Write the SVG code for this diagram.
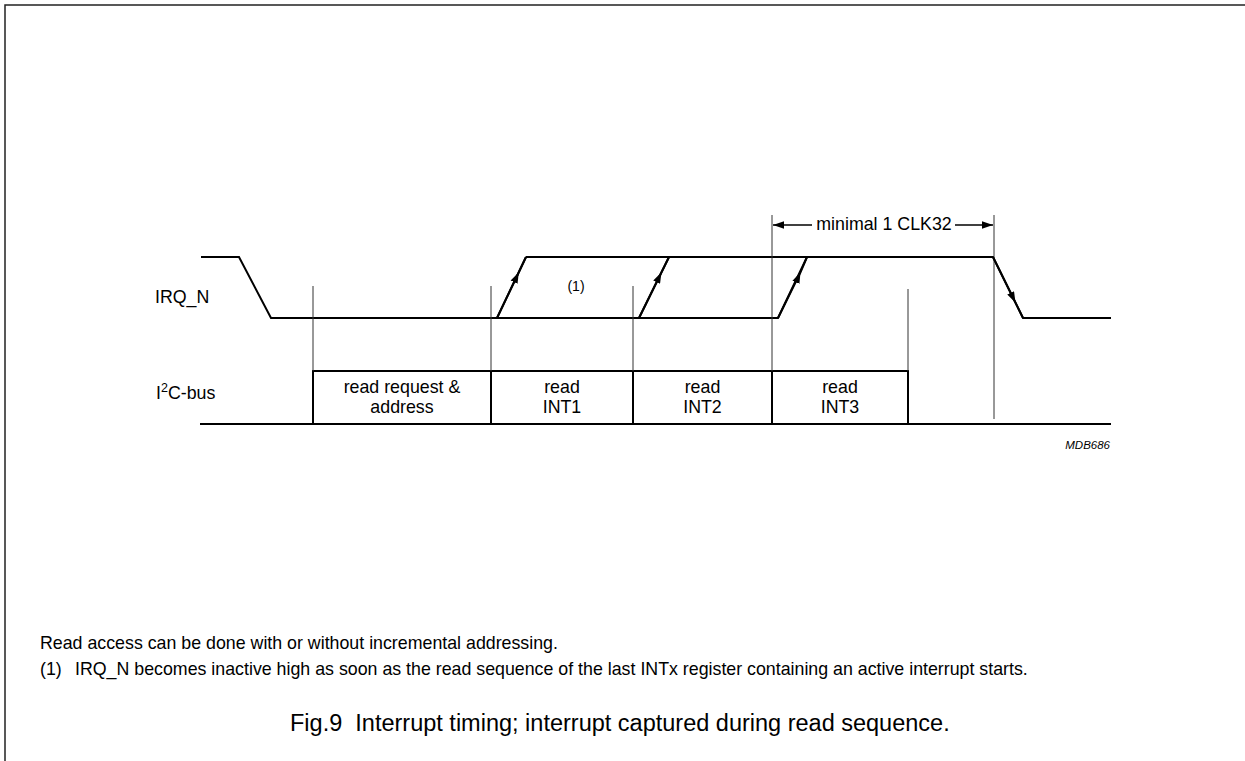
<svg xmlns="http://www.w3.org/2000/svg" width="1245" height="761" viewBox="0 0 1245 761">
<style>
text{font-family:"Liberation Sans",Arial,Helvetica,sans-serif;fill:#000}
.lbl{font-size:17.8px}
.sig{fill:none;stroke:#000;stroke-width:2;stroke-linejoin:miter}
.thin{fill:none;stroke:#333;stroke-width:1}
.box{fill:none;stroke:#000;stroke-width:2}
.ctr{text-anchor:middle}
</style>
<defs>
<marker id="ah" markerUnits="userSpaceOnUse" viewBox="-11 -4 12 8" refX="0" refY="0" markerWidth="12" markerHeight="8" orient="auto">
<path d="M0,0 L-11,-3.8 L-11,3.8 Z" fill="#000"/>
</marker>
</defs>
<rect width="1245" height="761" fill="#fff"/>
<g id="frame"><path d="M5,761 V5 H1245" fill="none" stroke="#222" stroke-width="1.5"/></g>

<g id="irq_n">
<text class="lbl" x="155" y="303">IRQ_N</text>
<path class="sig" d="M201,257 H239 L271,318 H778 L807,257 H993 L1023,318 H1111"/>
<path class="sig" d="M526,257 H807"/>
<path class="sig" d="M497,318 L526,257"/>
<path class="sig" d="M639,318 L669,257"/>
<text x="576" y="291" class="ctr" font-size="14">(1)</text>
</g>

<g id="i2c_bus">
<text class="lbl" x="156" y="399">I<tspan font-size="12.5" dy="-7">2</tspan><tspan dy="7">C-bus</tspan></text>
<path class="sig" d="M200,424 H1111"/>
</g>

<g id="box_read_request">
<path class="box" d="M313,424 V371 H491 V424"/>
<text class="lbl ctr" x="402" y="393">read request &amp;</text>
<text class="lbl ctr" x="402" y="413">address</text>
</g>
<g id="box_int1">
<path class="box" d="M491,371 H633 V424"/>
<text class="lbl ctr" x="562" y="393">read</text>
<text class="lbl ctr" x="562" y="413">INT1</text>
</g>
<g id="box_int2">
<path class="box" d="M633,371 H772 V424"/>
<text class="lbl ctr" x="702.5" y="393">read</text>
<text class="lbl ctr" x="702.5" y="413">INT2</text>
</g>
<g id="box_int3">
<path class="box" d="M772,371 H908 V424"/>
<text class="lbl ctr" x="840" y="393">read</text>
<text class="lbl ctr" x="840" y="413">INT3</text>
</g>

<g id="connectors">
<line class="thin" x1="313" y1="286" x2="313" y2="371"/>
<line class="thin" x1="491" y1="286" x2="491" y2="371"/>
<line class="thin" x1="633" y1="286" x2="633" y2="371"/>
<line class="thin" x1="772" y1="215" x2="772" y2="371"/>
<line class="thin" x1="908" y1="289" x2="908" y2="371"/>
<line class="thin" x1="994" y1="215" x2="994" y2="419"/>
<polyline fill="none" stroke="#000" stroke-width="2" points="497,318 518.8,272.3 526,257" marker-mid="url(#ah)"/>
<polyline fill="none" stroke="#000" stroke-width="2" points="639,318 661.5,272.3 669,257" marker-mid="url(#ah)"/>
<polyline fill="none" stroke="#000" stroke-width="2" points="778,318 800.5,272.3 807,257" marker-mid="url(#ah)"/>
<polyline fill="none" stroke="#000" stroke-width="2" points="993,257 1015.5,302.7 1023,318" marker-mid="url(#ah)"/>
<line x1="812" y1="225" x2="773" y2="225" stroke="#000" stroke-width="1.5" marker-end="url(#ah)"/>
<line x1="955" y1="225" x2="993" y2="225" stroke="#000" stroke-width="1.5" marker-end="url(#ah)"/>
<text class="lbl" x="884" y="230" text-anchor="middle">minimal 1 CLK32</text>
</g>

<text x="1110" y="449" font-size="11.5" font-style="italic" text-anchor="end">MDB686</text>

<g id="notes">
<text class="lbl" x="40" y="649">Read access can be done with or without incremental addressing.</text>
<text class="lbl" x="40" y="675">(1)</text>
<text class="lbl" x="75" y="675">IRQ_N becomes inactive high as soon as the read sequence of the last INTx register containing an active interrupt starts.</text>
<text x="290" y="731" font-size="23.5" style="white-space:pre">Fig.9  Interrupt timing; interrupt captured during read sequence.</text>
</g>
</svg>
